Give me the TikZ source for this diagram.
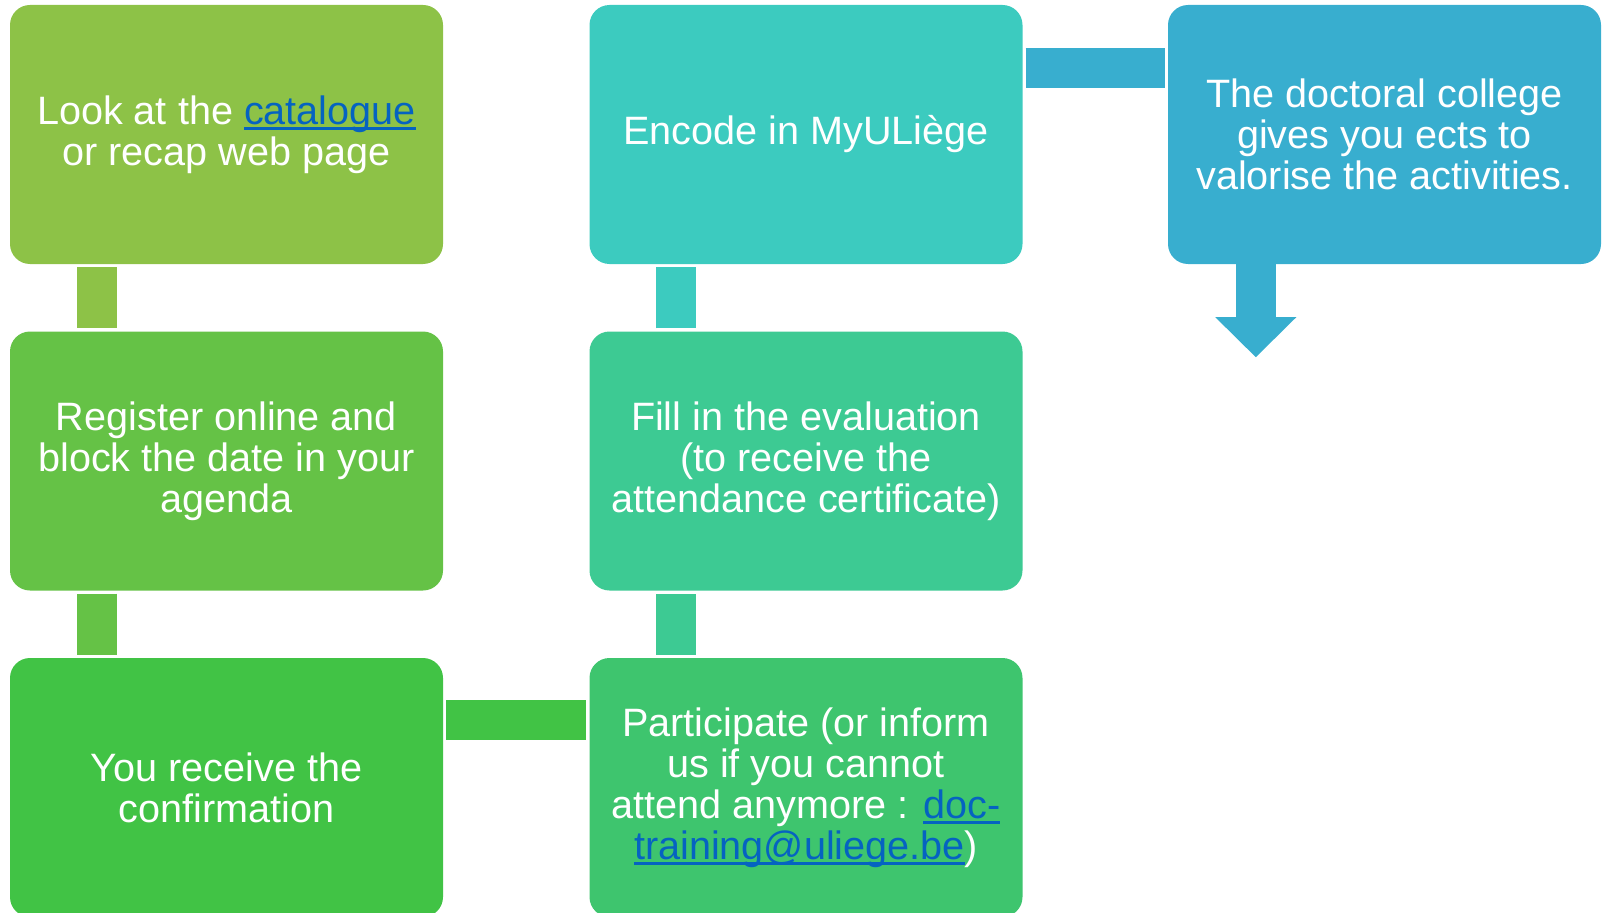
\documentclass[tikz,border=0pt]{standalone}
\usepackage{fontspec}
\setmainfont{Liberation Sans}
\usetikzlibrary{arrows.meta}
\definecolor{box_olive}{RGB}{141,194,71}
\definecolor{box_lime}{RGB}{101,194,70}
\definecolor{box_green}{RGB}{65,195,69}
\definecolor{box_jade}{RGB}{62,197,110}
\definecolor{box_mint}{RGB}{61,202,147}
\definecolor{box_teal}{RGB}{60,203,191}
\definecolor{box_blue}{RGB}{56,174,207}
\definecolor{link_blue}{RGB}{5,99,193}
\newcommand{\weblink}[1]{{\color{link_blue}\setbox0=\hbox{#1}\rlap{\rule[-5.5pt]{\wd0}{2.6pt}}\box0}}

\begin{document}
\begin{tikzpicture}[x=1pt,y=-1pt]
    \tikzstyle{stage}=[rectangle, rounded corners=20pt, minimum width=433pt, minimum height=259pt, inner sep=0pt, align=center, text=white, font=\fontsize{39.6}{41}\selectfont]
    \tikzstyle{bar}=[line width=40pt, shorten <=3pt, shorten >=3pt]
    \useasboundingbox (0,0) rectangle (1602,912);

    % left column
    \node[stage, fill=box_olive] (look)     at (226.5,134.5) {Look at the \weblink{catalogue}\\or recap web page};
    \node[stage, fill=box_lime]  (register) at (226.5,461)   {Register online and\\block the date in your\\agenda};
    \node[stage, fill=box_green] (confirm)  at (226.5,787.5) {You receive the\\confirmation};
    % middle column
    \node[stage, fill=box_jade]  (attend)   at (806,787.5)   {Participate (or inform\\us if you cannot\\attend anymore : \weblink{doc-}\\\weblink{training@uliege.be})};
    \node[stage, fill=box_mint]  (evaluate) at (806,461)     {Fill in the evaluation\\(to receive the\\attendance certificate)};
    \node[stage, fill=box_teal]  (encode)   at (806,134.5)   {Encode in MyULiège};
    % right column
    \node[stage, fill=box_blue]  (ects)     at (1384.5,134.5) {The doctoral college\\gives you ects to\\valorise the activities.};

    \coordinate (tip) at ([xshift=88pt,yshift=-93pt]ects.south west);

    \path
     ([xshift=87pt]look.south west)     edge[bar, box_olive] ([xshift=87pt]register.north west)
     ([xshift=87pt]register.south west) edge[bar, box_lime]  ([xshift=87pt]confirm.north west)
     ([yshift=-62pt]confirm.north east) edge[bar, box_green] ([yshift=-62pt]attend.north west)
     ([xshift=87pt]attend.north west)   edge[bar, box_mint]  ([xshift=87pt]evaluate.south west)
     ([xshift=87pt]evaluate.north west) edge[bar, box_teal]  ([xshift=87pt]encode.south west)
     ([yshift=-63pt]encode.north east)  edge[bar, box_blue]  ([yshift=-63pt]ects.north west)
     ;
    \draw[line width=40pt, box_blue, -{Triangle[width=81pt,length=40pt,line width=0pt]}]
     ([xshift=88pt]ects.south west) -- (tip);
\end{tikzpicture}
\end{document}
